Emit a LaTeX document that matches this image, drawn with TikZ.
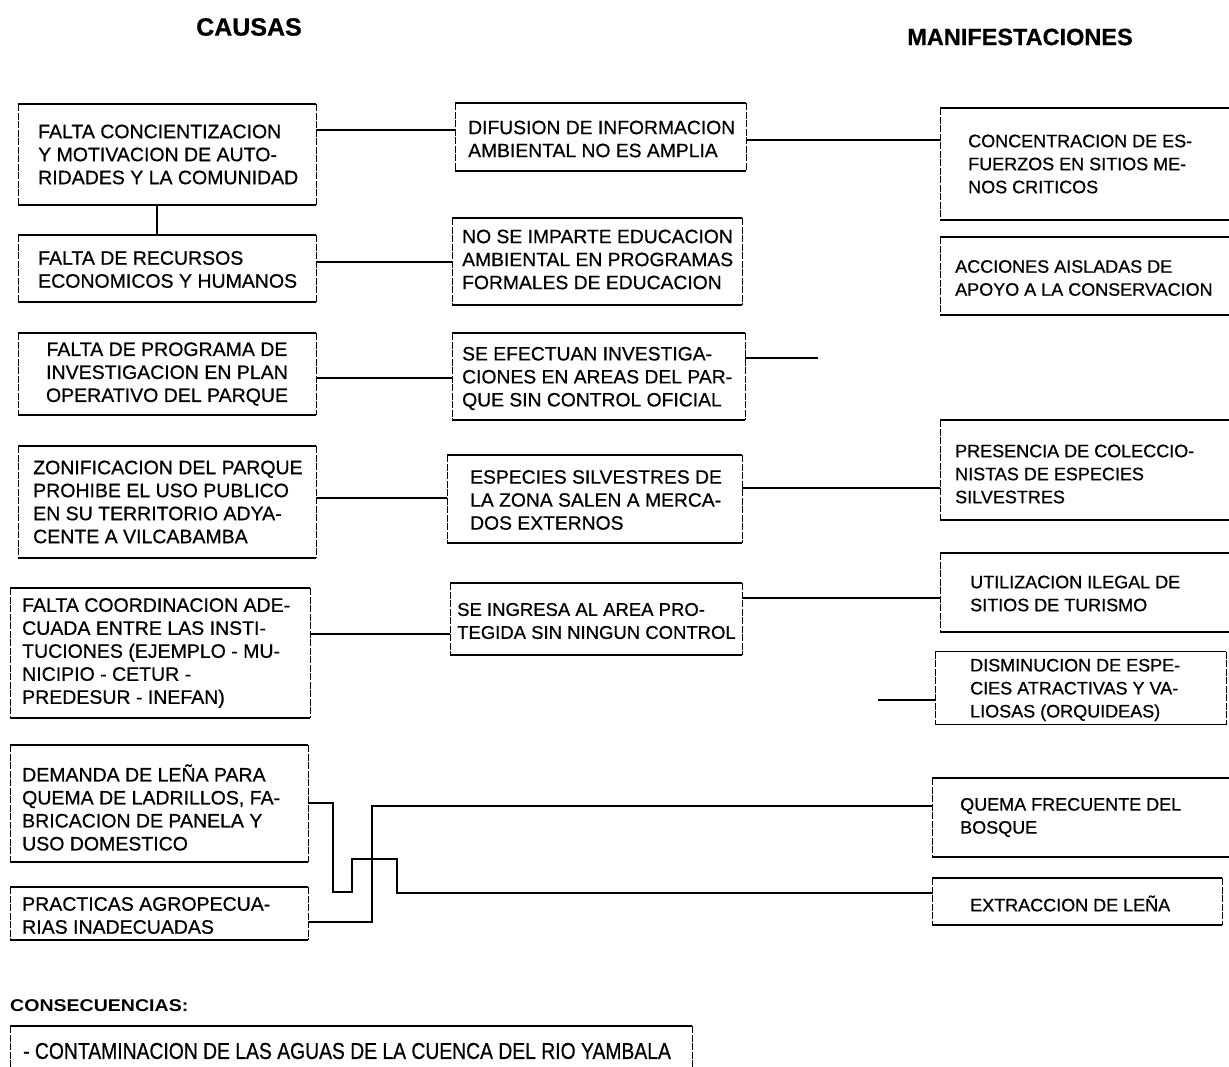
\documentclass[tikz,border=0pt]{standalone}
\usepackage{fontspec}
\setmainfont{Liberation Sans}[FakeBold=0.6]
\newfontfamily\bodyfont{Liberation Sans}[FakeBold=0.6]
\newfontfamily\narrowfont{Liberation Sans}[FakeStretch=0.84, FakeBold=0.6]
\newfontfamily\widefont{Liberation Sans}[FakeStretch=1.15]
\begin{document}
\begin{tikzpicture}[x=1pt,y=-1pt,
  cbox/.style={inner sep=0pt, outer sep=0pt},
  txt/.style={anchor=west, align=left, inner sep=0pt, font=\bodyfont\fontsize{#1}{23}\selectfont},
  ctxt/.style={anchor=center, align=center, inner sep=0pt, font=\bodyfont\fontsize{#1}{23}\selectfont},
  hline/.style={line width=1.5pt},
  vline/.style={line width=0.8pt, dash pattern=on 7pt off 1.5pt},
  conn/.style={line width=1.2pt},
  title/.style={font=\fontsize{#1}{28}\selectfont\bfseries, inner sep=0pt},
  subtitle/.style={font=\widefont\fontsize{17}{21}\selectfont\bfseries, inner sep=0pt, anchor=west},
]
\useasboundingbox (0,0) rectangle (1229,1066);
\clip (0,0) rectangle (1229,1066);
\fill[white] (0,0) rectangle (1229,1066);

% titles
\node[title=25] (t1) at (249,27) {CAUSAS};
\node[title=23.5] (t2) at (1020,37) {MANIFESTACIONES};
\node[subtitle] (t3) at (10,1006) {CONSECUENCIAS:};

% left column (causas)
\node[cbox, minimum width=298, minimum height=101,
  label={[txt=19.5, xshift=20pt]west:{FALTA CONCIENTIZACION\\Y MOTIVACION DE AUTO-\\RIDADES Y LA COMUNIDAD}}] (a1) at (167,154.5) {};
\node[cbox, minimum width=298, minimum height=67,
  label={[txt=19.5, xshift=20pt, yshift=-1pt]west:{FALTA DE RECURSOS\\ECONOMICOS Y HUMANOS}}] (a2) at (167,268.5) {};
\node[cbox, minimum width=298, minimum height=82,
  label={[ctxt=19.5]center:{FALTA DE PROGRAMA DE\\INVESTIGACION EN PLAN\\OPERATIVO DEL PARQUE}}] (a3) at (167,374) {};
\node[cbox, minimum width=298, minimum height=112,
  label={[txt=19.5, xshift=15pt]west:{ZONIFICACION DEL PARQUE\\PROHIBE EL USO PUBLICO\\EN SU TERRITORIO ADYA-\\CENTE A VILCABAMBA}}] (a4) at (167,502) {};
\node[cbox, minimum width=300, minimum height=130,
  label={[txt=19.5, xshift=12pt]west:{FALTA COORDINACION ADE-\\CUADA ENTRE LAS INSTI-\\TUCIONES (EJEMPLO - MU-\\NICIPIO - CETUR -\\PREDESUR - INEFAN)}}] (a5) at (160,653) {};
\node[cbox, minimum width=298, minimum height=117,
  label={[txt=19.5, xshift=12pt, yshift=-4pt]west:{DEMANDA DE LEÑA PARA\\QUEMA DE LADRILLOS, FA-\\BRICACION DE PANELA Y\\USO DOMESTICO}}] (a6) at (159,803.5) {};
\node[cbox, minimum width=298, minimum height=53,
  label={[txt=19.5, xshift=12pt, yshift=-2pt]west:{PRACTICAS AGROPECUA-\\RIAS INADECUADAS}}] (a7) at (159,913.5) {};

% middle column
\node[cbox, minimum width=291, minimum height=68,
  label={[txt=19.3, xshift=13pt, yshift=-2pt]west:{DIFUSION DE INFORMACION\\AMBIENTAL NO ES AMPLIA}}] (b1) at (600.5,137) {};
\node[cbox, minimum width=290, minimum height=87,
  label={[txt=19.3, xshift=10pt, yshift=2pt]west:{NO SE IMPARTE EDUCACION\\AMBIENTAL EN PROGRAMAS\\FORMALES DE EDUCACION}}] (b2) at (597,261.5) {};
\node[cbox, minimum width=293, minimum height=87,
  label={[txt=19.3, xshift=10pt, yshift=-2pt]west:{SE EFECTUAN INVESTIGA-\\CIONES EN AREAS DEL PAR-\\QUE SIN CONTROL OFICIAL}}] (b3) at (598.5,376.5) {};
\node[cbox, minimum width=295, minimum height=88,
  label={[txt=19.3, xshift=23pt, yshift=-1pt]west:{ESPECIES SILVESTRES DE\\LA ZONA SALEN A MERCA-\\DOS EXTERNOS}}] (b4) at (594.5,499) {};
\node[cbox, minimum width=292, minimum height=72,
  label={[txt=18.5, xshift=7pt, yshift=-2pt]west:{SE INGRESA AL AREA PRO-\\TEGIDA SIN NINGUN CONTROL}}] (b5) at (596,619) {};

% right column (manifestaciones)
\node[cbox, minimum width=292, minimum height=112,
  label={[txt=18, xshift=28pt]west:{CONCENTRACION DE ES-\\FUERZOS EN SITIOS ME-\\NOS CRITICOS}}] (c1) at (1086,164) {};
\node[cbox, minimum width=292, minimum height=78,
  label={[txt=18, xshift=15pt, yshift=-2pt]west:{ACCIONES AISLADAS DE\\APOYO A LA CONSERVACION}}] (c2) at (1086,276) {};
\node[cbox, minimum width=292, minimum height=100,
  label={[txt=18, xshift=15pt, yshift=-4pt]west:{PRESENCIA DE COLECCIO-\\NISTAS DE ESPECIES\\SILVESTRES}}] (c3) at (1086,470) {};
\node[cbox, minimum width=292, minimum height=79,
  label={[txt=18, xshift=30pt, yshift=-1pt]west:{UTILIZACION ILEGAL DE\\SITIOS DE TURISMO}}] (c4) at (1086,592.5) {};
\node[cbox, minimum width=291, minimum height=73,
  label={[txt=18, xshift=35pt, yshift=-2pt]west:{DISMINUCION DE ESPE-\\CIES ATRACTIVAS Y VA-\\LIOSAS (ORQUIDEAS)}}] (c5) at (1080.5,688) {};
\node[cbox, minimum width=300, minimum height=79,
  label={[txt=18, xshift=28pt]west:{QUEMA FRECUENTE DEL\\BOSQUE}}] (c6) at (1082,817.5) {};
\node[cbox, minimum width=290, minimum height=47,
  label={[txt=18, xshift=38pt, yshift=-2pt]west:{EXTRACCION DE LEÑA}}] (c7) at (1077,901.5) {};

% consecuencias box
\node[cbox, minimum width=682, minimum height=80,
  label={[anchor=west, inner sep=0pt, xshift=13pt, yshift=-25pt, font=\narrowfont\fontsize{23}{27}\selectfont]north west:{- CONTAMINACION DE LAS AGUAS DE LA CUENCA DEL RIO YAMBALA}}] (d1) at (351,1066) {};

% frames
\foreach \n in {a1,a2,a3,a4,a5,a6,a7,b1,b2,b3,b4,b5,c1,c2,c3,c4,c5,c6,c7,d1} {
  \draw[hline] (\n.north west) -- (\n.north east);
  \draw[hline] (\n.south west) -- (\n.south east);
  \draw[vline] (\n.north west) -- (\n.south west);
  \draw[vline] (\n.north east) -- (\n.south east);
}

% connectors
\draw[conn] (a1.south -| 157,0) -- (a2.north -| 157,0);
\draw[conn] (a1.east |- 0,130) -- (b1.west |- 0,130);
\draw[conn] (a2.east |- 0,262) -- (b2.west |- 0,262);
\draw[conn] (a3.east |- 0,378) -- (b3.west |- 0,378);
\draw[conn] (a4.east |- 0,498) -- (b4.west |- 0,498);
\draw[conn] (a5.east |- 0,634) -- (b5.west |- 0,634);
\draw[conn] (b1.east |- 0,140) -- (c1.west |- 0,140);
\coordinate (e3) at (818,358);
\draw[conn] (b3.east |- e3) -- (e3);
\draw[conn] (b4.east |- 0,488) -- (c3.west |- 0,488);
\draw[conn] (b5.east |- 0,598) -- (c4.west |- 0,598);
\coordinate (e5) at (878,700);
\draw[conn] (e5) -- (c5.west |- e5);

% wood / fire connectors
\coordinate (k1) at (333,892);
\coordinate (k2) at (352,859);
\coordinate (k3) at (397,893);
\draw[conn] (a6.east |- 0,803) -| (k1) -| (k2) -| (k3) -- (c7.west |- k3);
\coordinate (k4) at (372,806);
\draw[conn] (a7.east |- 0,922) -| (k4) -- (c6.west |- k4);
\end{tikzpicture}
\end{document}
